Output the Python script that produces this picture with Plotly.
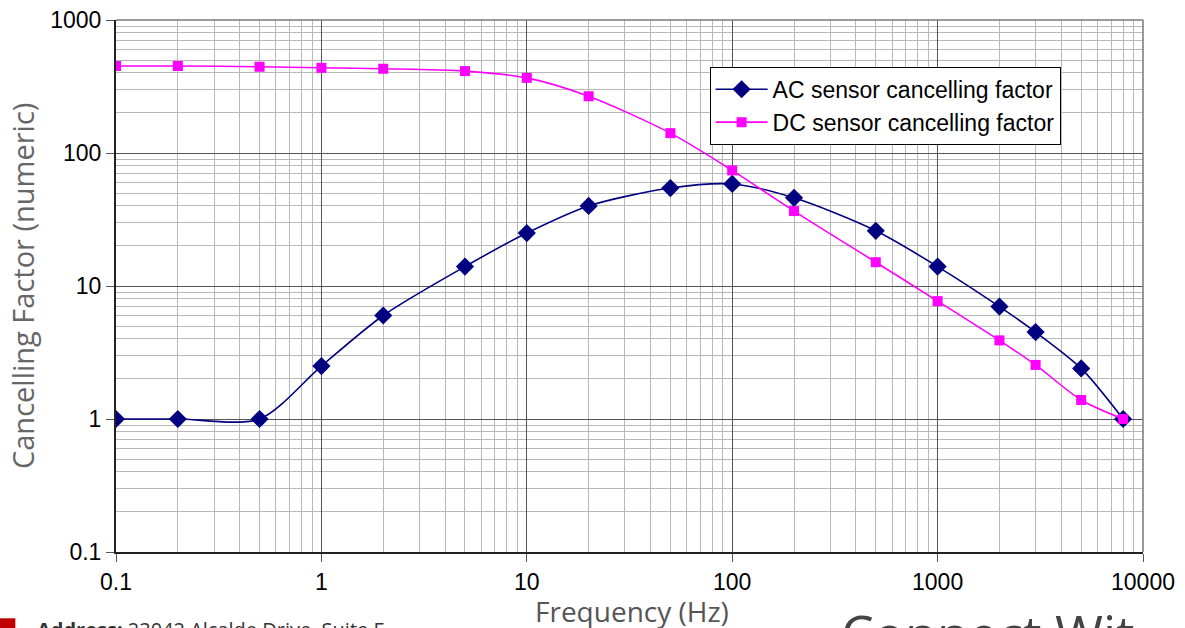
import plotly.graph_objects as go

freq = [0.1, 0.2, 0.5, 1, 2, 5, 10, 20, 50, 100, 200, 500, 1000, 2000, 3000, 5000, 8000]
ac_factor = [1, 1, 1, 2.5, 6, 14, 25, 40, 54.5, 58.5, 46, 26, 14, 7, 4.5, 2.4, 1]
dc_factor = [451, 451, 445, 437, 430, 413, 367, 267, 141, 74, 36.6, 15.1, 7.7, 3.9, 2.55, 1.39, 1]

x_ticks = [0.1, 1, 10, 100, 1000, 10000]
x_tick_text = ["0.1", "1", "10", "100", "1000", "10000"]
y_ticks = [0.1, 1, 10, 100, 1000]
y_tick_text = ["0.1", "1", "10", "100", "1000"]


def minor_vals(decades):
    return [d * k for d in decades[:-1] for k in range(2, 10)]


fig = go.Figure()
fig.add_trace(go.Scatter(
    x=freq, y=ac_factor, name="AC sensor cancelling factor",
    mode="lines+markers", line=dict(color="#000080", width=1.6, shape="spline", smoothing=0.8),
    marker=dict(symbol="diamond", size=14, color="#000080"),
))
fig.add_trace(go.Scatter(
    x=freq, y=dc_factor, name="DC sensor cancelling factor",
    mode="lines+markers", line=dict(color="#FF00FF", width=1.6, shape="spline", smoothing=0.8),
    marker=dict(symbol="square", size=10, color="#FF00FF"),
))

axis_font = dict(family="Liberation Sans, Arial", size=23, color="#000")
common = dict(
    type="log", showgrid=True, gridcolor="#555", gridwidth=1.2,
    showline=True, linecolor="#222", linewidth=2, mirror=False,
    ticks="outside", ticklen=8, tickcolor="#555", tickwidth=1,
    tickfont=axis_font, zeroline=False, automargin=False,
)
fig.update_xaxes(
    range=[-1, 4], tickvals=x_ticks, ticktext=x_tick_text,
    minor=dict(showgrid=True, gridcolor="#b8b8b8", gridwidth=1, ticks="",
               tickmode="array", tickvals=minor_vals(x_ticks)),
    **common,
)
fig.update_yaxes(
    range=[-1, 3], tickvals=y_ticks, ticktext=y_tick_text,
    minor=dict(showgrid=True, gridcolor="#b8b8b8", gridwidth=1, ticks="",
               tickmode="array", tickvals=minor_vals(y_ticks)),
    **common,
)

fig.update_layout(
    width=1185, height=628,
    margin=dict(l=116, r=42, t=20, b=76),
    paper_bgcolor="white", plot_bgcolor="white",
    showlegend=True,
    legend=dict(
        x=0.578, y=0.912, xanchor="left", yanchor="top",
        bgcolor="white", bordercolor="#000", borderwidth=1,
        font=dict(family="Liberation Sans, Arial", size=23, color="#000"),
        itemwidth=52,
    ),
    annotations=[
        dict(text="Frequency (Hz)", xref="paper", yref="paper", x=0.5024, y=-0.111,
             xanchor="center", yanchor="middle", showarrow=False,
             font=dict(family="Open Sans", size=28, color="#555")),
        dict(text="Cancelling Factor (numeric)", xref="paper", yref="paper", x=-0.0915, y=0.5,
             xanchor="center", yanchor="middle", showarrow=False, textangle=-90,
             font=dict(family="Open Sans", size=29, color="#666")),
        dict(text="<b>Address:</b> 23042 Alcalde Drive, Suite F", xref="paper", yref="paper",
             x=-0.079, y=-0.1165, xanchor="left", yanchor="top", showarrow=False,
             font=dict(family="Open Sans", size=20, color="#333")),
        dict(text="Connect Wit", xref="paper", yref="paper", x=0.704, y=-0.0808,
             xanchor="left", yanchor="top", showarrow=False,
             font=dict(family="Open Sans", size=52, color="#444")),
    ],
    shapes=[
        dict(type="rect", xref="paper", yref="paper", x0=-0.113, x1=-0.098, y0=-0.1246, y1=-0.145,
             fillcolor="#c00000", line=dict(width=0)),
        dict(type="line", xref="paper", yref="paper", x0=0, x1=1, y0=1, y1=1,
             line=dict(color="#777", width=1.5)),
        dict(type="line", xref="paper", yref="paper", x0=1, x1=1, y0=0, y1=1,
             line=dict(color="#777", width=1.5)),
    ],
)

fig.write_html("out.html", config={"displayModeBar": False},
               post_script="document.body.style.margin='0';document.body.style.overflow='hidden';")
